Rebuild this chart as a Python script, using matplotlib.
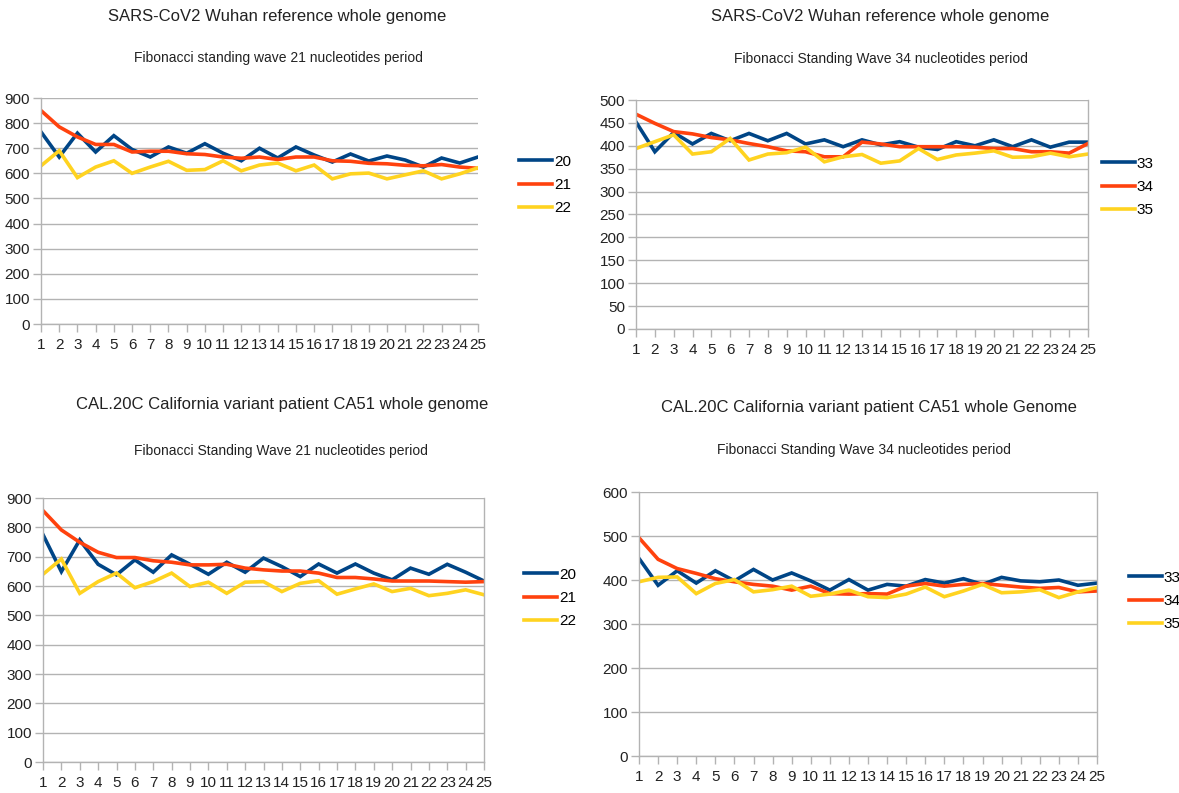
import matplotlib
matplotlib.use("Agg")
import matplotlib.pyplot as plt

plt.rcParams['font.family'] = ['Liberation Sans', 'DejaVu Sans']

x = list(range(1, 26))

# Top-left: SARS-CoV2 Wuhan, 21 period
tl_20 = [765, 665, 760, 685, 750, 695, 665, 705, 680, 718, 680, 650, 700, 661, 705, 673, 645, 677, 649, 669, 653, 625, 661, 641, 665]
tl_21 = [850, 785, 745, 715, 715, 685, 688, 688, 678, 675, 665, 660, 665, 655, 665, 665, 650, 648, 640, 638, 632, 630, 635, 625, 620]
tl_22 = [630, 690, 583, 625, 650, 600, 625, 648, 612, 615, 650, 610, 633, 641, 610, 633, 578, 598, 601, 578, 594, 610, 578, 598, 622]

# Top-right: SARS-CoV2 Wuhan, 34 period
tr_33 = [452, 387, 429, 404, 427, 411, 427, 411, 427, 404, 413, 398, 413, 402, 409, 397, 392, 409, 400, 413, 398, 413, 397, 408, 408]
tr_34 = [469, 449, 431, 426, 418, 413, 405, 398, 389, 387, 376, 376, 408, 404, 398, 398, 398, 398, 397, 394, 394, 387, 387, 384, 405]
tr_35 = [394, 409, 424, 382, 387, 416, 369, 382, 385, 397, 365, 376, 381, 362, 367, 394, 370, 380, 384, 389, 375, 376, 384, 376, 382]

# Bottom-left: CAL.20C CA51, 21 period
bl_20 = [775, 649, 757, 674, 638, 689, 647, 706, 674, 640, 681, 647, 695, 666, 632, 675, 644, 675, 644, 621, 661, 640, 674, 647, 617]
bl_21 = [857, 791, 749, 715, 697, 697, 686, 681, 672, 672, 674, 661, 655, 651, 651, 644, 629, 629, 624, 617, 617, 617, 615, 613, 615]
bl_22 = [640, 692, 575, 615, 644, 594, 615, 644, 598, 613, 575, 613, 615, 581, 609, 618, 572, 590, 607, 581, 592, 567, 575, 587, 570]

# Bottom-right: CAL.20C CA51, 34 period
br_33 = [449, 388, 421, 393, 421, 398, 424, 400, 416, 398, 377, 401, 377, 390, 386, 401, 393, 403, 390, 406, 398, 396, 400, 388, 393]
br_34 = [496, 447, 426, 415, 403, 396, 390, 386, 377, 386, 369, 368, 369, 368, 386, 392, 386, 390, 392, 388, 384, 381, 383, 373, 375]
br_35 = [396, 406, 407, 369, 392, 401, 373, 378, 386, 363, 368, 377, 362, 360, 368, 384, 362, 375, 390, 371, 373, 378, 360, 373, 383]

panels = [
    dict(series=[("20", tl_20), ("21", tl_21), ("22", tl_22)], ymax=900, ystep=100,
         title="SARS-CoV2 Wuhan reference whole genome",
         sub="Fibonacci standing wave 21 nucleotides period",
         box=(41, 98, 478, 324), tpos=(277, 17), spos=(278, 58), leg=(505, 185), rspine=False),
    dict(series=[("33", tr_33), ("34", tr_34), ("35", tr_35)], ymax=500, ystep=50,
         title="SARS-CoV2 Wuhan reference whole genome",
         sub="Fibonacci Standing Wave 34 nucleotides period",
         box=(636, 100, 1088, 329), tpos=(880, 17), spos=(881, 59), leg=(1088, 187), rspine=True),
    dict(series=[("20", bl_20), ("21", bl_21), ("22", bl_22)], ymax=900, ystep=100,
         title="CAL.20C California variant patient CA51 whole genome",
         sub="Fibonacci Standing Wave 21 nucleotides period",
         box=(43, 498, 484, 762), tpos=(282, 405), spos=(281, 451), leg=(510, 598), rspine=True),
    dict(series=[("33", br_33), ("34", br_34), ("35", br_35)], ymax=600, ystep=100,
         title="CAL.20C California variant patient CA51 whole Genome",
         sub="Fibonacci Standing Wave 34 nucleotides period",
         box=(639, 492, 1097, 756), tpos=(869, 407), spos=(864, 450), leg=(1115, 601), rspine=True),
]

colors = ["#004586", "#ff420e", "#ffd320"]
W, H = 1179, 793
fig = plt.figure(figsize=(W / 100, H / 100), dpi=100)
fig.patch.set_facecolor("white")

for p in panels:
    x0, y0, x1, y1 = p["box"]
    ax = fig.add_axes([x0 / W, 1 - y1 / H, (x1 - x0) / W, (y1 - y0) / H])
    for (lab, ys), c in zip(p["series"], colors):
        ax.plot(x, ys, color=c, lw=2.6, label=lab, solid_joinstyle="miter")
    ax.set_xlim(1, 25)
    ax.set_ylim(0, p["ymax"])
    ax.set_yticks(range(0, p["ymax"] + 1, p["ystep"]))
    ax.set_xticks(x)
    ax.yaxis.grid(True, color="#b3b3b3", lw=1)
    ax.set_axisbelow(True)
    for s in ["left", "bottom", "right", "top"]:
        ax.spines[s].set_color("#b3b3b3")
        ax.spines[s].set_linewidth(1)
    ax.spines["top"].set_visible(False)
    ax.spines["right"].set_visible(p["rspine"])
    ax.tick_params(axis="both", colors="#b3b3b3", labelcolor="#222222", labelsize=11,
                   length=6, width=1, direction="out", pad=2)
    ax.tick_params(axis="x", pad=4)
    fig.text(p["tpos"][0] / W, 1 - p["tpos"][1] / H, p["title"], ha="center", va="center",
             fontsize=12, color="#222222")
    fig.text(p["spos"][0] / W, 1 - p["spos"][1] / H, p["sub"], ha="center", va="center",
             fontsize=10, color="#222222")
    leg = ax.legend(loc="center left", bbox_to_anchor=(p["leg"][0] / W, 1 - p["leg"][1] / H),
                    bbox_transform=fig.transFigure, frameon=False, fontsize=11,
                    handlelength=2.2, handletextpad=0.1, labelspacing=0.6)

fig.savefig("out.png", dpi=100, facecolor="white")
